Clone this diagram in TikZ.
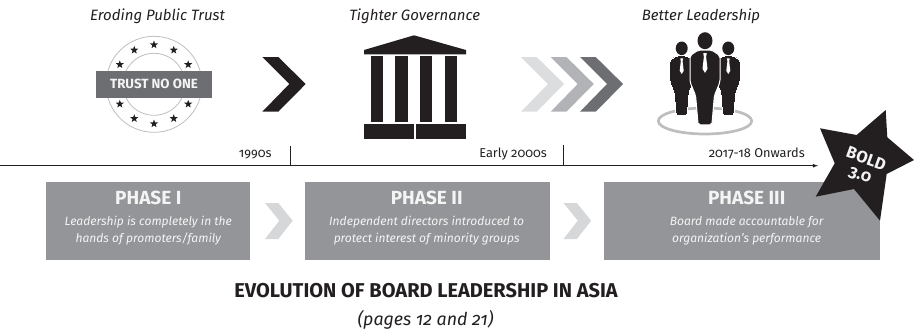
\documentclass[tikz,border=0pt]{standalone}
\usepackage{fontspec}
\usetikzlibrary{shapes.geometric}
\setmainfont[Numbers=OldStyle]{Fira Sans}
\definecolor{inkblack}{HTML}{231F20}
\definecolor{boxgrey}{HTML}{939598}
\definecolor{midgrey}{HTML}{6D6E71}
\definecolor{softgrey}{HTML}{B1B3B6}
\definecolor{palegrey}{HTML}{DCDDDE}
\definecolor{ringgrey}{HTML}{BCBEC0}
\definecolor{paperwhite}{HTML}{F4F4F5}
\tikzset{
    headline/.style={font=\itshape\fontsize{15}{17}\selectfont, text=inkblack},
    period/.style={font=\fontsize{12.8}{15}\selectfont, text=inkblack, anchor=east, inner sep=0},
    phasebox/.style={fill=boxgrey, draw=none},
    phasename/.style={font=\bfseries\fontsize{19}{21}\selectfont, text=paperwhite},
    phasetext/.style={font=\itshape\fontsize{12.05}{17}\selectfont, text=paperwhite, align=center},
}
\begin{document}
\begin{tikzpicture}[>=latex, x=1pt, y=-1pt]
\useasboundingbox (0,0) rectangle (914,333);
% headings
\node[headline] (trusthead) at (157.5,16.7){Eroding Public Trust};
\node[headline] (govhead) at (414.7,16.7){Tighter Governance};
\node[headline] (leadhead) at (701,16.7){Better Leadership};
% seal
\draw[ringgrey, line width=.8pt] (154,84.3) circle (48);
\draw[ringgrey, line width=.8pt] (154,84.3) circle (31);
\foreach \a in {0,30,...,330}
{
    \node[star, star points=5, star point ratio=2.4, fill=inkblack, inner sep=0, minimum size=8.5pt] (seal\a) at ([shift={(\a:39.5)}]154,84.3){};
}
\node[fill=midgrey, minimum width=116pt, minimum height=26.7pt, inner sep=0, text=paperwhite, font=\bfseries\fontsize{13.3}{15}\selectfont] (banner) at (154,84.3){TRUST NO ONE};
% chevrons
\foreach \x/\w/\c in {262.3/16/inkblack, 521/15.7/palegrey, 550.7/15.7/softgrey, 580/15.7/midgrey}
{
    \fill[\c] (\x,57)--++(\w,0)--++(27.4,27)--++(-27.4,27.7)--++(-\w,0)--++(27,-27.7)--cycle;
}
\foreach \x in {265,563.5}
{
    \fill[palegrey!85!softgrey] (\x,203)--++(13.3,0)--++(14.4,17.7)--++(-14.4,18.3)--++(-13.3,0)--++(14.3,-18.3)--cycle;
}
% temple
\fill[inkblack] (364,50)--(414,35.3)--(466,50)--(466,54.3)--(364,54.3)--cycle;
\foreach \x/\w in {371/12,395/13,420/12,445/12}
{
    \fill[inkblack] (\x,56) rectangle ++(\w,65.7);
}
\fill[inkblack] (364,124) rectangle (414,138.7);
\fill[inkblack] (416,124) rectangle (466,138.7);
% people
\draw[ringgrey, line width=2.7pt] (705,121) ellipse (46.7 and 13);
\foreach \x/\y/\s/\o in {681.7/48.3/1/0, 728.3/48.3/1/0, 705/40.7/1.25/1}
{
\begin{scope}[shift={(\x,\y)}, scale=\s]
    \fill[inkblack, draw=white, line width=\o pt, rounded corners=2pt] (-5.5,7.5)--(-12,12)--(-12,33)--(-7.5,44)--(-5.5,67.4)--(5.5,67.4)--(7.5,44)--(12,33)--(12,12)--(5.5,7.5)--cycle;
    \fill[inkblack] (0,0) ellipse (6 and 6.8);
    \fill[white] (-1.4,10)--(1.4,10)--(.9,13)--(2,22.5)--(0,25.7)--(-2,22.5)--(-.9,13)--cycle;
\end{scope}
}
% time line
\coordinate (axisstart) at (0,165.7);
\coordinate (axisend) at (818,165.7);
\coordinate (tickone) at (290,146);
\coordinate (ticktwo) at (563,144.5);
\draw[->, inkblack, line width=.8pt] (axisstart)--(axisend);
\draw[inkblack, line width=.7pt] (tickone)--(tickone|-axisstart);
\draw[inkblack, line width=.7pt] (ticktwo)--(ticktwo|-axisstart);
\node[period] (first) at (271.7,155){1990s};
\node[period] (second) at (547,154){Early 2000s};
\node[period] (third) at (805,153.5){2017-18 Onwards};
% phases
\fill[phasebox] (46,182) rectangle (250,259.7);
\fill[phasebox] (305,182) rectangle (550,259.7);
\fill[phasebox] (604,182) rectangle (880,259.7);
\node[phasename] (phaseone) at (148.3,197.7){PHASE I};
\node[phasename] (phasetwo) at (426.7,197.7){PHASE II};
\node[phasename] (phasethree) at (746.7,197.7){PHASE III};
\node[phasetext] (textone) at (148.3,231){Leadership is completely in the\\hands of promoters/family};
\node[phasetext] (texttwo) at (426.7,231){Independent directors introduced to\\protect interest of minority groups};
\node[phasetext] (textthree) at (746.7,231){Board made accountable for\\organization's performance};
% star
\fill[inkblack] (885.7,110)--(887.3,137.3)--(914,160)--(886.7,174)--(880,220.7)--(854,189)--(815.7,196.7)--(834.7,163.3)--(820,128.3)--(856.7,135)--cycle;
\node[rotate=-20, text=paperwhite, align=center, inner sep=0, font=\bfseries\fontsize{16.5}{16.7}\selectfont] (bold) at (863.2,167.2){BOLD\\3.0};
% caption
\node[font=\bfseries\fontsize{20}{22}\selectfont, text=inkblack] (caption) at (426,290.7){EVOLUTION OF BOARD LEADERSHIP IN ASIA};
\node[font=\itshape\fontsize{17.8}{20}\selectfont, text=inkblack] (pages) at (425.5,320){(pages 12 and 21)};
\end{tikzpicture}
\end{document}
